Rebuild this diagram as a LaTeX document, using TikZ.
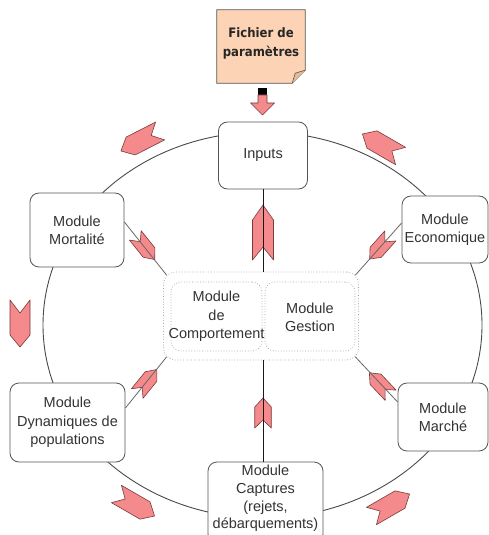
\documentclass[tikz,border=0pt]{standalone}
\usepackage{fontspec}
\setmainfont{Liberation Sans}
\newfontfamily\fichfont[FakeStretch=0.9]{DejaVu Sans}
\definecolor{peach}{HTML}{FCD3B4}
\definecolor{peachfold}{HTML}{E9B996}
\definecolor{pinkarr}{HTML}{F48A8C}
\definecolor{arredge}{HTML}{7A3A3A}
\definecolor{boxedge}{HTML}{555555}
\definecolor{txt}{HTML}{333333}
\definecolor{ringcol}{HTML}{4A4A4A}
\newcommand\modfont{\fontsize{14.5bp}{18.3bp}\selectfont}
\newcommand\chevron[6]{\path[chev,shift={#1},rotate={-#2}] ({#3/2},0) -- ({#3/2-#5},{#4/2}) -- ({-#3/2},{#4/2}) -- ({-#3/2+#6},0) -- ({-#3/2},{-#4/2}) -- ({#3/2-#5},{-#4/2}) -- cycle;}
\begin{document}
\begin{tikzpicture}[x=1bp,y=-1bp,
  mbox/.style={draw=boxedge, line width=0.8bp, fill=white, rounded corners=9bp, inner sep=0pt, align=center, text=txt, font=\modfont},
  dotbox/.style={draw=gray!75, dotted, line width=0.7bp, rounded corners=#1, inner sep=0pt},
  dotbox/.default=10bp,
  ring/.style={draw=ringcol, line width=0.9bp},
  diag/.style={draw=gray!80!black, line width=0.8bp},
  vline/.style={draw=black!90, line width=0.9bp},
  chev/.style={fill=pinkarr, draw=arredge, line width=0.6bp, line join=round},
  plain/.style={inner sep=0pt, align=center, text=txt, font=\modfont}]
\fill[white] (0,0) rectangle (489,535);
\useasboundingbox (0,0) rectangle (489,535);

% ring
\draw[ring] (262.5,325) ellipse [x radius=219.5bp, y radius=193bp];

% parameter file (note)
\node[inner sep=0pt, minimum width=88bp, minimum height=73bp] (fich) at (261,46.5) {};
\path[fill=peach, draw=boxedge, line width=0.8bp] (fich.north west) -- (fich.north east) -- ([yshift=13bp]fich.south east) -- ([xshift=-13bp]fich.south east) -- (fich.south west) -- cycle;
\path[fill=peachfold, draw=boxedge, line width=0.6bp] ([yshift=13bp]fich.south east) -- ([xshift=-10bp,yshift=10bp]fich.south east) -- ([xshift=-13bp]fich.south east);
\node[inner sep=0pt, align=center, text=black!85, font={\fichfont\bfseries\fontsize{13bp}{19bp}\selectfont}] (fichtxt) at (261,43) {Fichier de\\paramètres};

% small arrow fich -> inputs
\begin{scope}[shift={(262.5,88)}]
  \fill[black] (-4.5,0) rectangle (4.5,7);
  \path[chev] (-4.5,7) -- (4.5,7) -- (4.5,15) -- (12,15) -- (0,27) -- (-12,15) -- (-4.5,15) -- cycle;
\end{scope}

% central group
\node[dotbox=12bp, minimum width=195bp, minimum height=88bp] (grp) at (261,316) {};
\node[dotbox, minimum width=91bp, minimum height=69bp] (compbox) at (216.5,316.5) {};
\node[dotbox, minimum width=90bp, minimum height=69bp] (gestbox) at (310,316.5) {};
\node[plain] (comp) at (216.5,316.5) {Module\\de\\Comportement};
\node[plain] (gest) at (310,317.5) {Module\\Gestion};

% modules
\node[mbox, minimum width=89bp, minimum height=67bp] (inp) at (263,155.5) {Inputs};
\node[mbox, minimum width=94bp, minimum height=74bp] (mort) at (77,230) {Module\\Mortalité};
\node[mbox, minimum width=86bp, minimum height=67bp] (eco) at (445,229.5) {Module\\Economique};
\node[mbox, minimum width=115bp, minimum height=79bp] (dyn) at (67.5,422.5) {Module\\Dynamiques de\\populations};
\node[mbox, minimum width=90bp, minimum height=68bp] (mar) at (443,417) {Module\\Marché};
\node[mbox, minimum width=115bp, minimum height=81bp] (capt) at (265.5,502.5) {};
\node[plain, font={\fontsize{14.5bp}{17.8bp}\selectfont}] (capttxt) at (265.5,498.5) {Module\\Captures\\(rejets,\\débarquements)};

% pink arrows on links
\chevron{(263,232.5)}{270}{55}{21}{15}{13}
\chevron{(263,413)}{270}{30}{16.5}{9}{8}
\chevron{(145,247.5)}{51.2}{31}{15}{9}{8}
\chevron{(380,247.5)}{131.8}{31}{15}{9}{8}
\chevron{(147,381.5)}{309.2}{31}{15}{9}{8}
\chevron{(380,384)}{226.6}{31}{15}{9}{8}

% links
\draw[vline] (inp.south) -- (inp.south |- grp.north);
\draw[vline] (inp.south |- grp.south) -- (inp.south |- capt.north);
\draw[diag] ([yshift=8bp]mort.east) -- ([xshift=3.5bp,yshift=-3.5bp]grp.north west);
\draw[diag] ([yshift=6.5bp]eco.west) -- ([xshift=-3.5bp,yshift=-3.5bp]grp.north east);
\draw[diag] ([yshift=14.5bp]dyn.east) -- ([xshift=3.5bp,yshift=3.5bp]grp.south west);
\draw[diag] ([yshift=15bp]mar.west) -- ([xshift=-3.5bp,yshift=3.5bp]grp.south east);

% outer cycle arrows
\chevron{(140.5,141)}{153}{44}{20}{11}{10}
\chevron{(381.5,145)}{210}{44}{20}{11}{10}
\chevron{(20,323.5)}{90}{47}{20}{12}{13}
\chevron{(135.5,505)}{30}{44}{20}{11}{10}
\chevron{(390.5,505)}{330}{44}{20}{11}{10}
\end{tikzpicture}
\end{document}
